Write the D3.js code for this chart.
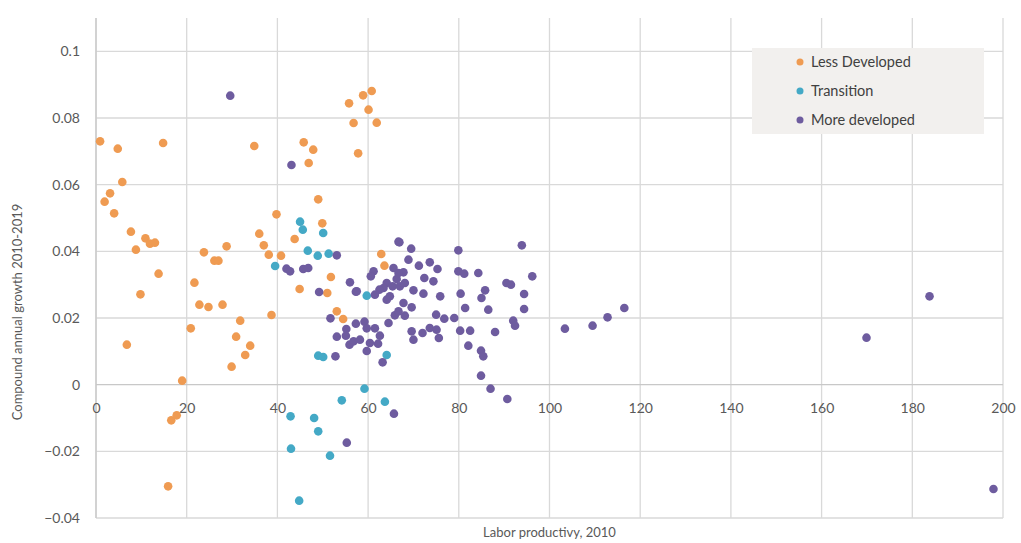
<!DOCTYPE html>
<html>
<head>
<meta charset="utf-8">
<script src="https://cdn.jsdelivr.net/npm/d3@7"></script>
<style>
  body { margin: 0; background: #fff; }
  text { font-family: Lato, "Liberation Sans", sans-serif; }
</style>
</head>
<body>
<svg width="1021" height="543"></svg>
<script>
// series names and colours
var seriesNames = ["Less Developed", "Transition", "More developed"];
var seriesColors = ["#ef9b52", "#44a9c6", "#6e5c9f"];

// [labor productivity 2010, compound annual growth 2010-2019]
var lessDeveloped = [
  [0.9, 0.073], [4.8, 0.0708], [14.8, 0.0725], [34.9, 0.0716], [5.8, 0.0608],
  [3.1, 0.0574], [1.9, 0.0549], [4.0, 0.0514], [7.7, 0.0459], [10.9, 0.0439],
  [11.9, 0.0423], [13.0, 0.0426], [8.8, 0.0405], [13.8, 0.0333], [9.8, 0.0271],
  [6.8, 0.012], [19.0, 0.0012], [21.7, 0.0306], [23.8, 0.0397], [26.1, 0.0372],
  [27.0, 0.0372], [28.8, 0.0415], [22.8, 0.024], [24.8, 0.0233], [27.9, 0.024],
  [20.9, 0.0169], [31.8, 0.0192], [30.9, 0.0144], [34.0, 0.0117], [32.9, 0.0089],
  [29.9, 0.0054], [38.7, 0.0209], [39.8, 0.0511], [36.0, 0.0453], [37.0, 0.0418],
  [38.1, 0.039], [40.8, 0.0387], [16.6, -0.0107], [17.8, -0.0092], [15.9, -0.0305],
  [60.8, 0.0881], [58.9, 0.0868], [55.8, 0.0844], [60.1, 0.0825], [56.8, 0.0785],
  [61.9, 0.0786], [57.8, 0.0694], [45.8, 0.0727], [47.9, 0.0705], [46.9, 0.0665],
  [49.0, 0.0556], [49.9, 0.0484], [43.8, 0.0437], [62.9, 0.0392], [63.6, 0.0357],
  [51.8, 0.0323], [44.9, 0.0287], [51.0, 0.0275], [53.1, 0.022], [54.5, 0.0197]
];

var transition = [
  [39.5, 0.0356], [45.0, 0.0489], [45.6, 0.0465], [50.1, 0.0455], [46.7, 0.0402],
  [48.9, 0.0387], [51.3, 0.0393], [59.7, 0.0267], [49.0, 0.0087], [50.1, 0.0083],
  [64.1, 0.0089], [59.2, -0.0012], [54.2, -0.0047], [63.7, -0.0051], [42.9, -0.0095],
  [48.1, -0.01], [49.0, -0.014], [43.0, -0.0192], [51.6, -0.0213], [44.8, -0.0348]
];

var moreDeveloped = [
  [29.6, 0.0867], [43.1, 0.0659], [42.0, 0.0348], [42.8, 0.034], [45.7, 0.0347],
  [46.8, 0.035], [49.2, 0.0278], [53.1, 0.0388], [66.7, 0.0429], [56.0, 0.0307],
  [57.3, 0.0279], [51.7, 0.0199], [53.1, 0.0144], [55.2, 0.0167], [55.1, 0.0147],
  [57.3, 0.0183], [59.2, 0.0189], [59.7, 0.0169], [61.5, 0.0169], [62.6, 0.0147],
  [62.2, 0.0123], [55.9, 0.012], [56.8, 0.013], [58.2, 0.0135], [60.4, 0.0125],
  [59.7, 0.0101], [52.8, 0.0085], [63.2, 0.0067], [65.7, -0.0087], [55.3, -0.0174],
  [66.9, 0.0427], [69.5, 0.0408], [68.9, 0.0375], [71.2, 0.0357], [73.6, 0.0367],
  [75.3, 0.0347], [65.6, 0.035], [61.2, 0.034], [67.8, 0.0337], [72.4, 0.032],
  [74.4, 0.031], [66.3, 0.0317], [60.6, 0.0325], [64.1, 0.0305], [63.4, 0.029],
  [62.5, 0.0285], [67.0, 0.0295], [68.1, 0.0305], [70.0, 0.0283], [72.2, 0.0273],
  [75.9, 0.0265], [57.5, 0.028], [61.5, 0.027], [64.8, 0.0265], [64.1, 0.0255],
  [67.8, 0.0245], [69.6, 0.0232], [65.9, 0.0208], [66.7, 0.022], [68.1, 0.0207],
  [75.0, 0.021], [76.8, 0.0198], [64.5, 0.0185], [69.6, 0.016], [70.0, 0.0135],
  [72.0, 0.0155], [73.6, 0.017], [75.1, 0.0165], [75.6, 0.014], [79.9, 0.0403],
  [93.9, 0.0418], [79.9, 0.034], [81.2, 0.0333], [84.3, 0.0335], [90.5, 0.0305],
  [91.5, 0.03], [96.2, 0.0325], [80.4, 0.0273], [85.8, 0.0283], [85.0, 0.026],
  [94.4, 0.0272], [81.4, 0.023], [86.5, 0.0225], [94.4, 0.0227], [79.0, 0.02],
  [92.0, 0.0192], [92.4, 0.0177], [80.3, 0.0162], [82.5, 0.0162], [88.0, 0.0158],
  [82.1, 0.0117], [84.9, 0.0102], [85.4, 0.0085], [84.9, 0.0027], [87.0, -0.0012],
  [90.7, -0.0043], [103.4, 0.0168], [109.5, 0.0177], [112.8, 0.0202], [116.5, 0.023],
  [183.8, 0.0265], [169.9, 0.0141], [197.9, -0.0313], [65.4, 0.0295], [66.7, 0.0335]
];

var xTicks = [0, 20, 40, 60, 80, 100, 120, 140, 160, 180, 200];
var yTicks = [-0.04, -0.02, 0, 0.02, 0.04, 0.06, 0.08, 0.1];

var svg = d3.select("svg"),
    margin = {top: 18, right: 18, bottom: 25, left: 96},
    width = 907,
    height = 500,
    g = svg.append("g").attr("transform", "translate(" + margin.left + "," + margin.top + ")");

var x = d3.scaleLinear().domain([0, 200]).range([0, width]);
var y = d3.scaleLinear().domain([-0.04, 0.11]).range([height, 0]);

// gridlines
g.append("g")
    .selectAll("line")
    .data(xTicks)
    .enter().append("line")
    .attr("x1", function (d) { return x(d); })
    .attr("x2", function (d) { return x(d); })
    .attr("y1", 0)
    .attr("y2", height)
    .attr("stroke", "#d9d9d9")
    .attr("stroke-width", 1.3);

g.append("g")
    .selectAll("line")
    .data(yTicks)
    .enter().append("line")
    .attr("x1", 0)
    .attr("x2", width)
    .attr("y1", function (d) { return y(d); })
    .attr("y2", function (d) { return y(d); })
    .attr("stroke", function (d) { return d === 0 ? "#c8c8c8" : "#d9d9d9"; })
    .attr("stroke-width", 1.3);

// left axis line
g.append("line")
    .attr("x1", 0).attr("x2", 0)
    .attr("y1", 0).attr("y2", height)
    .attr("stroke", "#c8c8c8")
    .attr("stroke-width", 1.3);

// y tick labels
var yAxis = d3.axisLeft(y).tickValues(yTicks).tickSize(0).tickPadding(16)
    .tickFormat(function (d) { return d === 0 ? "0" : d3.format("")(+d.toFixed(2)); });
g.append("g").call(yAxis)
    .call(function (s) { s.select(".domain").remove(); })
    .selectAll("text")
    .attr("font-size", 14)
    .attr("fill", "#595959");

// x tick labels sit under the zero line
var xAxis = d3.axisBottom(x).tickValues(xTicks).tickSize(0).tickPadding(18);
g.append("g")
    .attr("transform", "translate(0," + y(0) + ")")
    .call(xAxis)
    .call(function (s) { s.select(".domain").remove(); })
    .selectAll("text")
    .attr("font-size", 14)
    .attr("fill", "#595959");

// points
var allSeries = [lessDeveloped, transition, moreDeveloped];
allSeries.forEach(function (pts, i) {
    g.append("g")
        .selectAll("circle")
        .data(pts)
        .enter().append("circle")
        .attr("cx", function (d) { return x(d[0]); })
        .attr("cy", function (d) { return y(d[1]); })
        .attr("r", 4.3)
        .attr("fill", seriesColors[i]);
});

// axis titles
svg.append("text")
    .attr("x", margin.left + width / 2)
    .attr("y", 537)
    .attr("text-anchor", "middle")
    .attr("font-size", 13)
    .attr("fill", "#595959")
    .text("Labor productivy, 2010");

svg.append("text")
    .attr("transform", "translate(22,312) rotate(-90)")
    .attr("text-anchor", "middle")
    .attr("font-size", 13)
    .attr("fill", "#595959")
    .text("Compound annual growth 2010-2019");

// legend
var legend = svg.append("g").attr("transform", "translate(752,48)");
legend.append("rect")
    .attr("width", 232)
    .attr("height", 86)
    .attr("fill", "#f2f0ee");

var item = legend.selectAll(".item")
    .data(seriesNames)
    .enter().append("g")
    .attr("class", "item")
    .attr("transform", function (d, i) { return "translate(0," + (14 + i * 29) + ")"; });

item.append("circle")
    .attr("cx", 48)
    .attr("cy", 0)
    .attr("r", 3.5)
    .attr("fill", function (d, i) { return seriesColors[i]; });

item.append("text")
    .attr("x", 59)
    .attr("dy", "0.35em")
    .attr("font-size", 14.5)
    .attr("fill", "#404040")
    .text(function (d) { return d; });
</script>
</body>
</html>
